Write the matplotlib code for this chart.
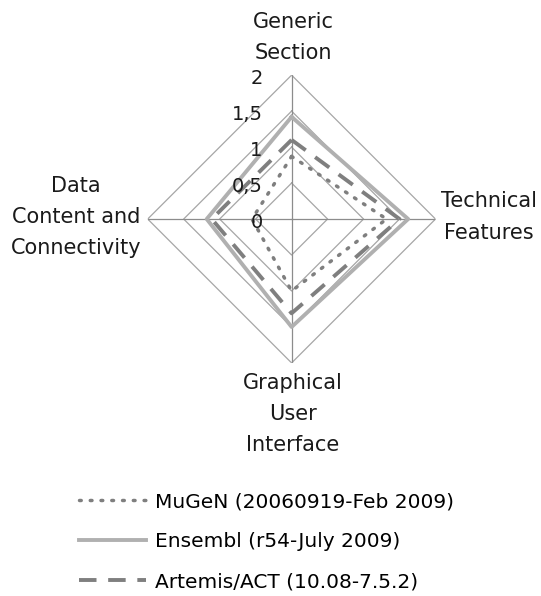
import numpy as np
import matplotlib
matplotlib.use('Agg')
import matplotlib.pyplot as plt
from matplotlib.lines import Line2D

categories = ['Generic\nSection', 'Technical\nFeatures', 'Graphical\nUser\nInterface',
              'Data\nContent and\nConnectivity']
mugen = [0.87, 1.32, 1.0, 0.55]
ensembl = [1.42, 1.62, 1.5, 1.18]
artemis = [1.1, 1.5, 1.31, 1.11]
ring_values = [0.5, 1.0, 1.5, 2.0]
ring_labels = ['0', '0,5', '1', '1,5', '2']
series_names = ['MuGeN (20060919-Feb 2009)', 'Ensembl (r54-July 2009)', 'Artemis/ACT (10.08-7.5.2)']

plt.rcParams['font.family'] = ['DejaVu Sans']
fig = plt.figure(figsize=(5.41, 5.96), dpi=100)
ax = fig.add_axes([0.273, 0.391, 0.532, 0.483], projection='polar')
ax.set_theta_zero_location('N')
ax.set_theta_direction(-1)
ax.set_ylim(0, 2)
ax.grid(False)
ax.spines['polar'].set_visible(False)
ax.set_xticks([])
ax.set_yticks([])
ax.patch.set_alpha(0)

angles = np.arange(len(categories)) * 2 * np.pi / len(categories)
closed = np.append(angles, angles[0])

# diamond rings + spokes
for r in ring_values:
    ax.plot(closed, [r] * len(closed), color='#a6a6a6', lw=0.9, zorder=1)
for a in angles:
    ax.plot([a, a], [0, 2], color='#8c8c8c', lw=0.9, zorder=1)

def close(v):
    return list(v) + [v[0]]

dot_style = dict(color='#7f7f7f', lw=2.5, linestyle=(0, (0.5, 2.6)), dash_capstyle='round')
solid_style = dict(color='#b0b0b0', lw=2.8)
dash_style = dict(color='#7f7f7f', lw=2.8, linestyle=(0, (4.5, 3)))

ax.plot(closed, close(mugen), zorder=3, **dot_style)
ax.plot(closed, close(ensembl), zorder=2, **solid_style)
ax.plot(closed, close(artemis), zorder=3, **dash_style)

fs = 15
# value labels left of the vertical axis
for i, lab in enumerate(ring_labels):
    ax.annotate(lab, xy=(0, i * 0.5), xytext=(-29, -3), textcoords='offset pixels',
                ha='right', va='center', fontsize=14, color='#1a1a1a')

# category labels
offsets = [(2, 38), (5, 2), (1, -51), (-72, 2)]
aligns = ['center', 'left', 'center', 'center']
for a, lab, off, ha in zip(angles, categories, offsets, aligns):
    ax.annotate(lab, xy=(a, 2), xytext=off, textcoords='offset pixels',
                ha=ha, va='center', multialignment='center', fontsize=fs,
                linespacing=1.7, color='#1a1a1a', annotation_clip=False)

handles = [Line2D([], [], **dot_style), Line2D([], [], **solid_style), Line2D([], [], **dash_style)]
fig.legend(handles, series_names, loc='upper left', bbox_to_anchor=(0.132, 0.188),
           frameon=False, fontsize=14.5, handlelength=3.3, handletextpad=0.45,
           labelspacing=1.05, borderaxespad=0)

fig.savefig('out.png', dpi=100, facecolor='white')
